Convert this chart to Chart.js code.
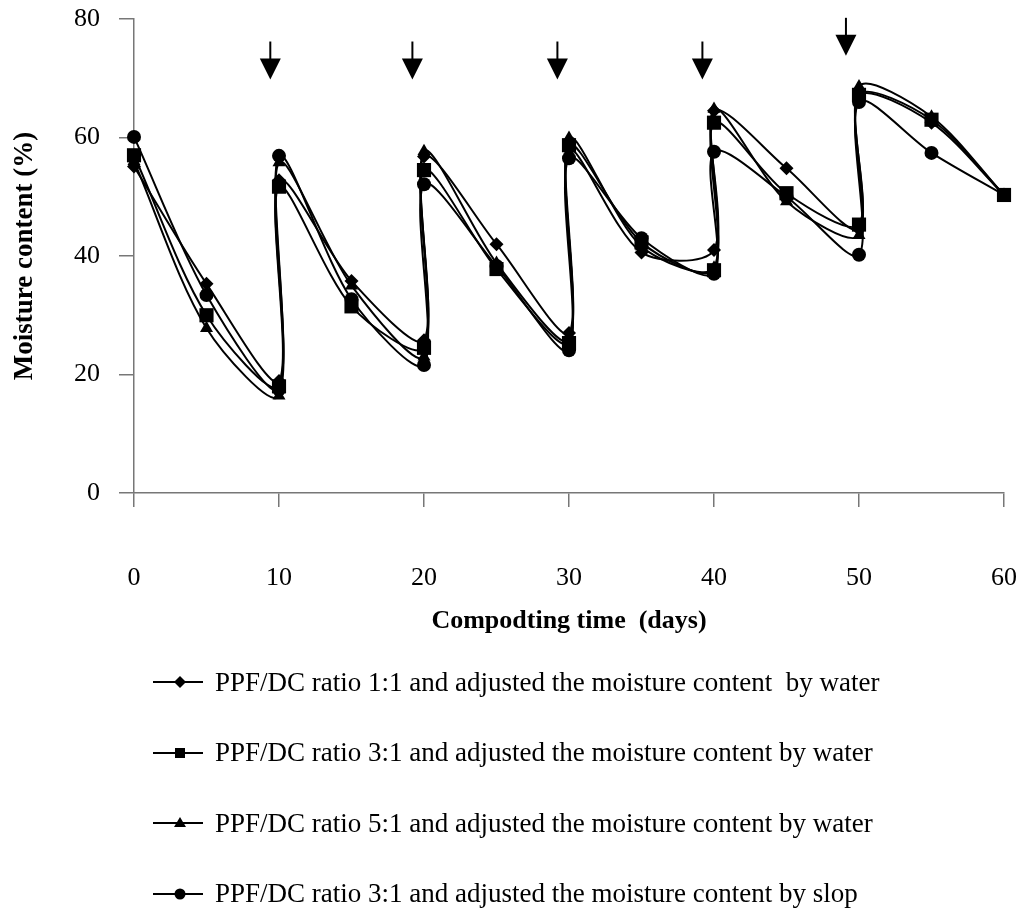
<!DOCTYPE html>
<html>
<head>
<meta charset="utf-8">
<script src="https://cdn.jsdelivr.net/npm/chart.js@4.4.1/dist/chart.umd.min.js"></script>
<style>
  html, body { margin: 0; padding: 0; background: #fff; }
  #wrap { position: relative; width: 1021px; height: 910px; }
  #legend {
    position: absolute; left: 153px; top: 647px;
    font-family: 'Liberation Serif', 'Times New Roman', serif;
    font-size: 27px; color: #000;
  }
  .row { height: 70.5px; display: flex; align-items: center; white-space: pre; }
  .row svg { margin-right: 12px; }
</style>
</head>
<body>
<div id="wrap">
  <canvas id="chart"></canvas>
  <div id="legend"></div>
</div>
<script>
// composting days (two readings on each re-wetting day: before / after)
const days = [0, 5, 10, 10, 15, 20, 20, 25, 30, 30, 35, 40, 40, 45, 50, 50, 55, 60];

const labels = [
  'PPF/DC ratio 1:1 and adjusted the moisture content  by water',
  'PPF/DC ratio 3:1 and adjusted the moisture content by water',
  'PPF/DC ratio 5:1 and adjusted the moisture content by water',
  'PPF/DC ratio 3:1 and adjusted the moisture content by slop'
];

// moisture content (%)
const ratio11Water = [55.1, 35.3, 18.9, 52.8, 35.8, 25.8, 56.8, 42.0, 27.0, 57.9, 40.6, 41.0, 64.5, 54.8, 44.5, 67.0, 62.5, 50.3];
const ratio31Water = [57.0, 30.0, 18.0, 51.7, 31.5, 24.5, 54.5, 37.8, 25.3, 58.7, 42.3, 37.6, 62.5, 50.6, 45.3, 67.2, 63.0, 50.3];
const ratio51Water = [56.0, 27.8, 16.4, 55.8, 35.0, 23.0, 57.7, 38.8, 25.8, 59.9, 41.6, 38.0, 64.8, 49.2, 43.5, 68.6, 63.5, 50.3];
const ratio31Slop  = [60.1, 33.4, 17.5, 56.9, 32.7, 21.6, 52.1, 38.3, 24.1, 56.5, 43.0, 37.0, 57.6, 50.0, 40.2, 66.0, 57.4, 50.3];

// arrows marking the moisture adjustments
const arrowDays = [9.4, 19.2, 29.2, 39.2, 49.1];
const arrowTop  = [76.2, 76.2, 76.2, 76.2, 80.2];
const arrowTip  = [69.8, 69.8, 69.8, 69.8, 73.8];

const xTicks = [0, 10, 20, 30, 40, 50, 60];
const yTicks = [0, 20, 40, 60, 80];

const series = [ratio11Water, ratio31Water, ratio51Water, ratio31Slop];
const styles = [
  { pointStyle: 'rectRot', radius: 7 },
  { pointStyle: 'rect', radius: 10 },
  { pointStyle: 'triangle', radius: 7.5 },
  { pointStyle: 'circle', radius: 7 }
];

const serif = "'Liberation Serif', 'Times New Roman', serif";
Chart.defaults.font.family = serif;
Chart.defaults.color = '#000';

const datasets = series.map((vals, i) => ({
  label: labels[i],
  data: vals.map((v, j) => ({ x: days[j], y: v })),
  showLine: true,
  borderColor: '#000',
  borderWidth: 2,
  backgroundColor: '#000',
  pointBackgroundColor: '#000',
  pointBorderColor: '#000',
  pointBorderWidth: 0,
  pointStyle: styles[i].pointStyle,
  pointRadius: styles[i].radius,
  tension: 0.3,
  clip: false
}));

const arrowPlugin = {
  id: 'arrows',
  afterDatasetsDraw(chart) {
    const { ctx, scales: { x, y } } = chart;
    ctx.save();
    ctx.fillStyle = '#000';
    ctx.strokeStyle = '#000';
    ctx.lineWidth = 2;
    arrowDays.forEach((d, i) => {
      const px = x.getPixelForValue(d);
      const top = y.getPixelForValue(arrowTop[i]);
      const tip = y.getPixelForValue(arrowTip[i]);
      const headH = 21, headW = 10.5;
      ctx.beginPath();
      ctx.moveTo(px, top);
      ctx.lineTo(px, tip - headH + 1);
      ctx.stroke();
      ctx.beginPath();
      ctx.moveTo(px - headW, tip - headH);
      ctx.lineTo(px + headW, tip - headH);
      ctx.lineTo(px, tip);
      ctx.closePath();
      ctx.fill();
    });
    ctx.restore();
  }
};

const axisGrid = {
  drawOnChartArea: false,
  drawTicks: true,
  color: '#777',
  lineWidth: 1.5
};

// keep the plot area where the layout padding puts it
function noLabelPadding(axis) {
  axis.paddingTop = 0;
  axis.paddingBottom = 0;
  axis.paddingLeft = 0;
  axis.paddingRight = 0;
}

new Chart(document.getElementById('chart'), {
  type: 'scatter',
  data: { datasets },
  options: {
    responsive: true,
    maintainAspectRatio: false,
    animation: false,
    layout: { padding: { top: 19, right: 17, bottom: 269, left: 0 } },
    plugins: {
      legend: { display: false },
      tooltip: { enabled: false }
    },
    scales: {
      x: {
        type: 'linear',
        min: 0,
        max: 60,
        afterBuildTicks: axis => { axis.ticks = xTicks.map(v => ({ value: v })); },
        afterFit: axis => { axis.height = 148; noLabelPadding(axis); },
        grid: { ...axisGrid, tickLength: 14 },
        border: { color: '#777', width: 1.5 },
        ticks: { font: { size: 26 }, padding: 56, color: '#000' },
        title: {
          display: true,
          text: 'Compodting time  (days)',
          font: { size: 26, weight: 'bold' },
          padding: { top: 13, bottom: 4 },
          color: '#000'
        }
      },
      y: {
        type: 'linear',
        min: 0,
        max: 80,
        afterBuildTicks: axis => { axis.ticks = yTicks.map(v => ({ value: v })); },
        afterFit: axis => { axis.width = 134; noLabelPadding(axis); },
        grid: { ...axisGrid, tickLength: 15 },
        border: { color: '#777', width: 1.5 },
        ticks: { font: { size: 26 }, padding: 19, color: '#000' },
        title: {
          display: true,
          text: 'Moisture content (%)',
          font: { size: 27, weight: 'bold' },
          padding: { top: 9, bottom: 0 },
          color: '#000'
        }
      }
    }
  },
  plugins: [arrowPlugin]
});

// legend below the chart
const markerSvg = [
  '<polygon points="27,4 33,10 27,16 21,10" fill="#000"/>',
  '<rect x="22" y="5" width="10" height="10" fill="#000"/>',
  '<polygon points="27,4 33,14 21,14" fill="#000"/>',
  '<circle cx="27" cy="10" r="5.5" fill="#000"/>'
];
const legend = document.getElementById('legend');
labels.forEach((text, i) => {
  const row = document.createElement('div');
  row.className = 'row';
  row.innerHTML = '<svg width="50" height="20"><line x1="0" y1="10" x2="50" y2="10" stroke="#000" stroke-width="2"/>' +
    markerSvg[i] + '</svg>';
  const span = document.createElement('span');
  span.textContent = text;
  row.appendChild(span);
  legend.appendChild(row);
});
</script>
</body>
</html>
